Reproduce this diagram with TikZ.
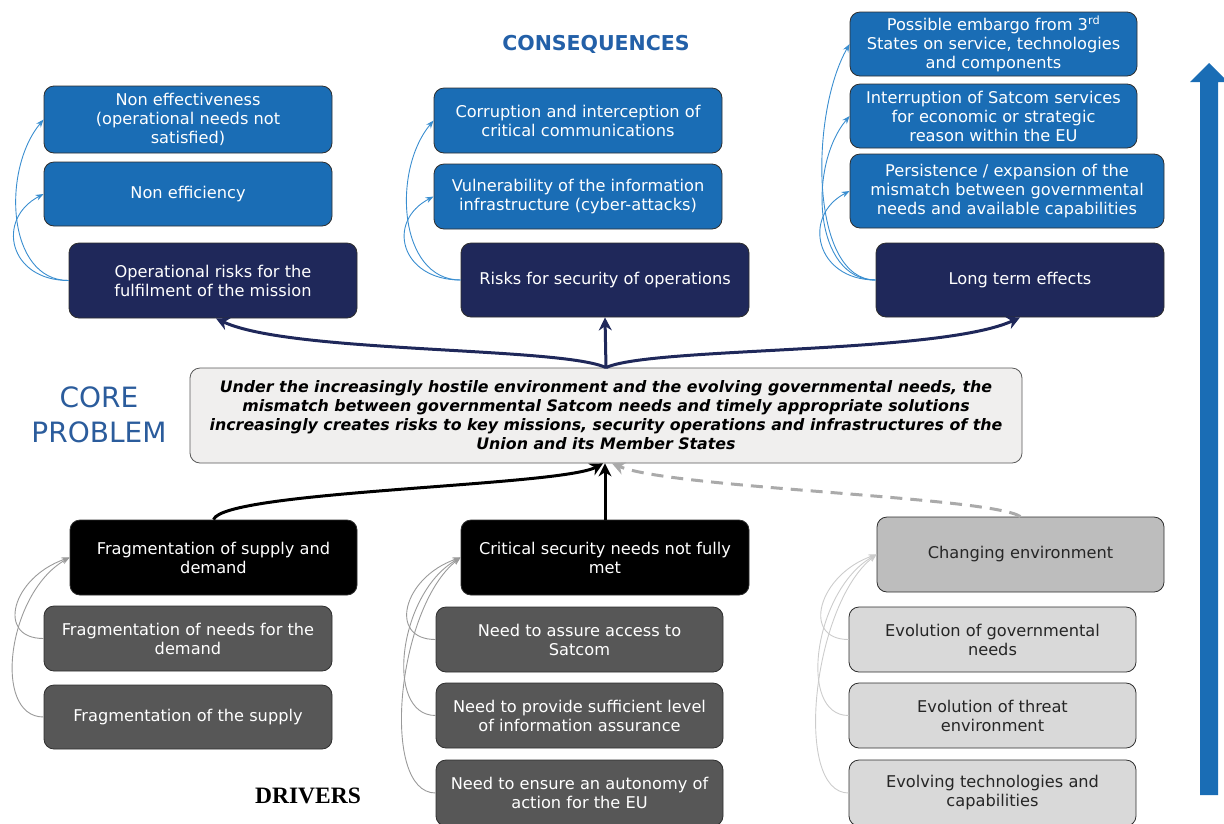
\documentclass[tikz,border=0pt]{standalone}
\usepackage{fontspec}
\setmainfont{DejaVu Sans}
\newfontfamily\headserif{Liberation Serif}
\usetikzlibrary{arrows.meta}

\definecolor{boxblue}{HTML}{1A6DB5}
\definecolor{navy}{HTML}{1F285A}
\definecolor{boxline}{HTML}{2E2E2E}
\definecolor{corefill}{HTML}{F0EFEE}
\definecolor{darkgraybox}{HTML}{575757}
\definecolor{midgraybox}{HTML}{BDBDBD}
\definecolor{lightgraybox}{HTML}{D9D9D9}
\definecolor{headblue}{HTML}{2360A8}
\definecolor{coreblue}{HTML}{2B5C9C}
\definecolor{linkblue}{HTML}{3A8ED0}
\definecolor{linkgray}{HTML}{9A9A9A}
\definecolor{linklight}{HTML}{CCCCCC}
\definecolor{dashgray}{HTML}{AAAAAA}

\begin{document}
\begin{tikzpicture}[x=1pt,y=-1pt,
  sz/.style 2 args={minimum width=#1pt, minimum height=#2pt},
  box/.style={draw=boxline, line width=0.8pt, rounded corners=10pt, align=center,
    inner sep=0pt, font=\fontsize{16.2}{19}\selectfont},
  conseq/.style={box, fill=boxblue, text=white},
  riskbox/.style={box, fill=navy, text=white},
  corebox/.style={box, draw=boxline!80, fill=corefill, text=black,
    font=\fontsize{15.8}{19}\selectfont\bfseries\itshape},
  driver/.style={box, fill=black, text=white},
  subdark/.style={box, fill=darkgraybox, text=white},
  envbox/.style={box, fill=midgraybox, text=black!85},
  sublight/.style={box, fill=lightgraybox, text=black!85},
  minitip/.style={-{Stealth[length=8pt,width=6pt]}},
  bluelink/.style={minitip, draw=linkblue, line width=0.9pt},
  graylink/.style={minitip, draw=linkgray, line width=0.9pt},
  lightlink/.style={minitip, draw=linklight, line width=0.9pt},
  navyarrow/.style={draw=navy, line width=3pt, -{Stealth[length=13pt,width=13pt]}},
  blackarrow/.style={draw=black, line width=3pt, -{Stealth[length=13pt,width=13pt]}},
  dasharrow/.style={draw=dashgray, line width=3pt, dash pattern=on 12pt off 8pt,
    -{Stealth[length=13pt,width=13pt]}}
]
\useasboundingbox (0,0) rectangle (1224,823);

% ---------- headings ----------
\node[text=headblue, font=\fontsize{20.5}{24}\selectfont\bfseries] (conslabel) at (596,44) {CONSEQUENCES};
\node[text=coreblue, align=center, font=\fontsize{28}{35}\selectfont] (corelabel) at (99,415) {CORE\\PROBLEM};
\node[text=black, font=\fontsize{23.5}{26}\selectfont\headserif\bfseries] (drvlabel) at (308,796) {DRIVERS};

% ---------- big upward arrow ----------
\fill[boxblue] (1200,795) -- (1200,82) -- (1190,82) -- (1209,63) -- (1228,82)
  -- (1218,82) -- (1218,795) -- cycle;

% ---------- consequences ----------
\node[conseq, sz={288}{67}] (neff) at (188,119.5) {Non effectiveness\\(operational needs not\\satisfied)};
\node[conseq, sz={288}{64}] (neffi) at (188,194) {Non efficiency};
\node[riskbox, sz={288}{75}] (oprisk) at (213,280.5) {Operational risks for the\\fulfilment of the mission};

\node[conseq, sz={288}{65}] (corr) at (578,120.5) {Corruption and interception of\\critical communications};
\node[conseq, sz={288}{65}] (vuln) at (578,196.5) {Vulnerability of the information\\infrastructure (cyber-attacks)};
\node[riskbox, sz={288}{74}] (secrisk) at (605,280) {Risks for security of operations};

\node[conseq, sz={287}{64}] (embargo) at (993.5,44) {Possible embargo from 3\textsuperscript{rd}\\States on service, technologies\\and components};
\node[conseq, sz={287}{64}] (interr) at (993.5,116) {Interruption of Satcom services\\for economic or strategic\\reason within the EU};
\node[conseq, sz={314}{74}] (persist) at (1007,191) {Persistence / expansion of the\\mismatch between governmental\\needs and available capabilities};
\node[riskbox, sz={288}{74}] (longterm) at (1020,280) {Long term effects};

% ---------- core problem ----------
\node[corebox, sz={832}{95}] (core) at (606,415.5) {Under the increasingly hostile environment and the evolving governmental needs, the\\mismatch between governmental Satcom needs and timely appropriate solutions\\increasingly creates risks to key missions, security operations and infrastructures of the\\Union and its Member States};

% ---------- drivers ----------
\node[driver, sz={287}{75}] (fragsd) at (213.5,557.5) {Fragmentation of supply and\\demand};
\node[subdark, sz={288}{65}] (fragneed) at (188,638.5) {Fragmentation of needs for the\\demand};
\node[subdark, sz={288}{64}] (fragsup) at (188,717) {Fragmentation of the supply};

\node[driver, sz={288}{75}] (critsec) at (605,557.5) {Critical security needs not fully\\met};
\node[subdark, sz={287}{65}] (access) at (579.5,639.5) {Need to assure access to\\Satcom};
\node[subdark, sz={287}{65}] (assure) at (579.5,715.5) {Need to provide sufficient level\\of information assurance};
\node[subdark, sz={287}{66}] (autonomy) at (579.5,793) {Need to ensure an autonomy of\\action for the EU};

\node[envbox, sz={287}{75}] (changing) at (1020.5,554.5) {Changing environment};
\node[sublight, sz={287}{65}] (evgov) at (992.5,639.5) {Evolution of governmental\\needs};
\node[sublight, sz={287}{65}] (evthreat) at (992.5,715.5) {Evolution of threat\\environment};
\node[sublight, sz={287}{66}] (evtech) at (992.5,793) {Evolving technologies and\\capabilities};

% ---------- core problem to consequences ----------
\draw[navyarrow] (core.north) -- (secrisk.south);
\draw[navyarrow] (core.north) .. controls +(-45,-21) and +(74,35) .. ([xshift=3pt]oprisk.south);
\draw[navyarrow] (core.north) .. controls +(45,-21) and +(-80,37) .. (longterm.south);

% ---------- drivers to core problem ----------
\draw[blackarrow] (critsec.north) -- (critsec.north |- core.south);
\draw[blackarrow] (fragsd.north) .. controls +(10,-29) and +(-43,23) .. ([xshift=-3pt]core.south);
\draw[dasharrow] (changing.north) .. controls +(-30,-20) and +(60,25) .. ([xshift=6pt]core.south);

% ---------- small links, consequences ----------
\draw[bluelink] (oprisk.west) .. controls +(-60,0) and +(-48,25) .. (neffi.west);
\draw[bluelink] (oprisk.west) .. controls +(-62,0) and +(-42,50) .. (neff.west);

\draw[bluelink] (secrisk.west) .. controls +(-60,0) and +(-48,25) .. (vuln.west);
\draw[bluelink] (secrisk.west) .. controls +(-62,0) and +(-42,50) .. (corr.west);

\draw[bluelink] (longterm.west) .. controls +(-60,0) and +(-48,25) .. (persist.west);
\draw[bluelink] (longterm.west) .. controls +(-62,0) and +(-42,50) .. (interr.west);
\draw[bluelink] (longterm.west) .. controls +(-66,0) and +(-40,70) .. (embargo.west);

% ---------- small links, drivers ----------
\draw[graylink] (fragneed.west) .. controls +(-48,0) and +(-58,20) .. (fragsd.west);
\draw[graylink] (fragsup.west) .. controls +(-52,0) and +(-62,35) .. (fragsd.west);

\draw[graylink] (access.west) .. controls +(-48,0) and +(-58,20) .. (critsec.west);
\draw[graylink] (assure.west) .. controls +(-52,0) and +(-62,35) .. (critsec.west);
\draw[graylink] (autonomy.west) .. controls +(-56,0) and +(-64,50) .. (critsec.west);

\draw[lightlink] (evgov.west) .. controls +(-48,0) and +(-58,20) .. (changing.west);
\draw[lightlink] (evthreat.west) .. controls +(-52,0) and +(-62,35) .. (changing.west);
\draw[lightlink] (evtech.west) .. controls +(-56,0) and +(-64,50) .. (changing.west);
\end{tikzpicture}
\end{document}
